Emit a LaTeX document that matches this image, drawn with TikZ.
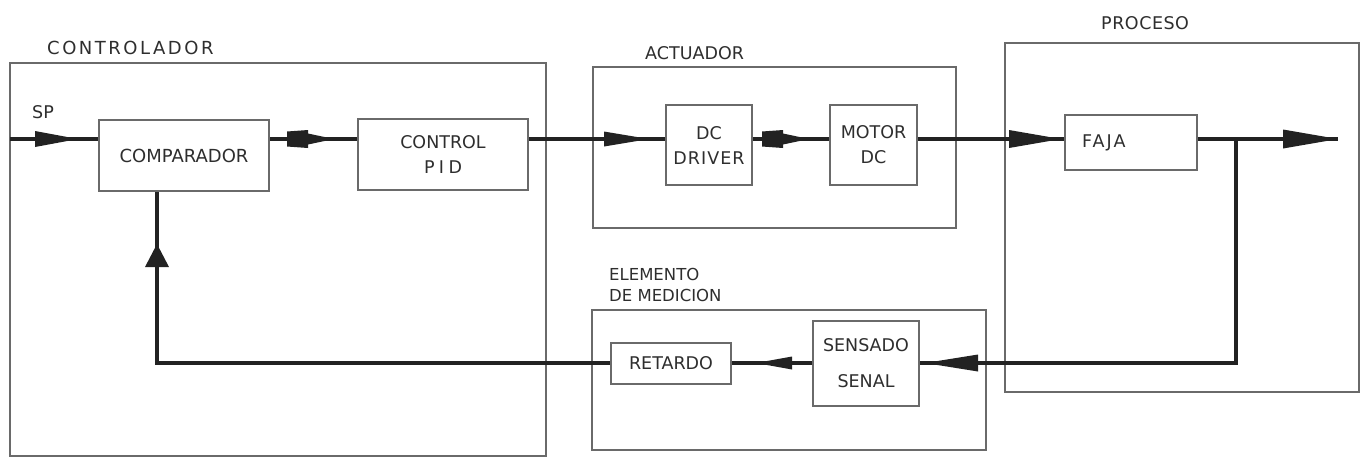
\documentclass[tikz,border=0pt]{standalone}
\usepackage{fontspec}
\setmainfont{DejaVu Sans}
\usetikzlibrary{arrows.meta,decorations.markings,calc}
\definecolor{boxcol}{HTML}{6A6A6A}
\definecolor{sigcol}{HTML}{222222}
\definecolor{txtcol}{HTML}{2E2E2E}
\begin{document}
\begin{tikzpicture}[x=1pt,y=-1pt,
  every node/.style={font=\fontsize{17.5}{25}\selectfont, text=txtcol},
  blk/.style={draw=boxcol, line width=2pt, rectangle, inner sep=0pt, align=center},
  frame/.style={draw=boxcol, line width=1.8pt},
  sig/.style={draw=sigcol, line width=3.6pt},
  tri/.style args={#1/#2/#3}{postaction={decorate}, decoration={markings,
      mark=at position #1 with {\fill[sigcol] (0,0) -- (-#2,-#3) -- (-#2,#3) -- cycle;}}},
  blockarr/.style args={#1/#2}{postaction={decorate}, decoration={markings,
      mark=at position #1 with {\fill[sigcol] (0,0) -- (-#2,-5.5) -- (-#2,-9) -- ({-#2-21},-7.5) -- ({-#2-21},7.5) -- (-#2,9) -- (-#2,5.5) -- cycle;}}},
  title/.style={anchor=west, inner sep=0pt}
]
\useasboundingbox[fill=white] (0,0) rectangle (1370,459);

% frames
\draw[frame] (10,63) rectangle (546,456);
\draw[frame] (593,67) rectangle (956,228);
\draw[frame] (1005,43) rectangle (1359,392);
\draw[frame] (592,310) rectangle (986,450);

% titles
\node[title, font=\fontsize{18}{22}\selectfont] (tctrl) at (47,48) {\addfontfeature{LetterSpace=14}CONTROLADOR};
\node[title] (tact) at (645,53) {ACTUADOR};
\node[title] (tproc) at (1101,23) {\addfontfeature{LetterSpace=3}PROCESO};
\node[title, align=left, font=\fontsize{16.5}{21}\selectfont] (tmed) at (609,285) {ELEMENTO\\DE MEDICION};
\node[title] (tsp) at (32,112) {SP};

% blocks
\node[blk, minimum width=170, minimum height=71, font=\fontsize{18}{25}\selectfont] (comp) at (184,155.5) {\raisebox{-2pt}{COMPARADOR}};
\node[blk, minimum width=170, minimum height=71] (pid) at (443,154.5) {CONTROL\\{\addfontfeature{LetterSpace=25}PID}};
\node[blk, minimum width=86, minimum height=80] (drv) at (709,145) {DC\\{\addfontfeature{LetterSpace=6}DRIVER}};
\node[blk, minimum width=87, minimum height=80] (mot) at (873.5,145) {MOTOR\\DC};
\node[blk, minimum height=55, text width=98, inner xsep=17, align=left] (faja) at (1131,142.5) {{\addfontfeature{LetterSpace=12}FAJA}};
\node[blk, minimum width=120, minimum height=41] (ret) at (671,363) {RETARDO};
\node[blk, minimum width=106, minimum height=85, font=\fontsize{17.5}{36}\selectfont] (sen) at (866,363) {SENSADO\\SENAL};

% connectors
\coordinate (sp) at (10,139);
\coordinate (out) at (1338,139);
\coordinate (br) at (1236,139);
\coordinate (fb) at (157,363);

\draw[sig, tri=68pt/43/8] (sp) -- (sp -| comp.west);
\draw[sig, blockarr=64pt/26] (comp.east |- sp) -- (pid.west |- sp);
\draw[sig, tri=120pt/45/7.5] (pid.east |- sp) -- (drv.west |- sp);
\draw[sig, blockarr=56pt/26] (drv.east |- sp) -- (mot.west |- sp);
\draw[sig, tri=143pt/52/9] (mot.east |- sp) -- (faja.west |- sp);
\draw[sig, tri=1/55/9.5] (faja.east |- sp) -- (out);
\draw[sig, tri=535pt/53/8.5] (br) -- (br |- sen.east) -- (sen.east);
\draw[sig, tri=56pt/36/6.5] (sen.west) -- (ret.east);
\draw[sig, tri=572pt/23/12] (ret.west) -- (fb) -- (fb |- comp.south);
\end{tikzpicture}
\end{document}
